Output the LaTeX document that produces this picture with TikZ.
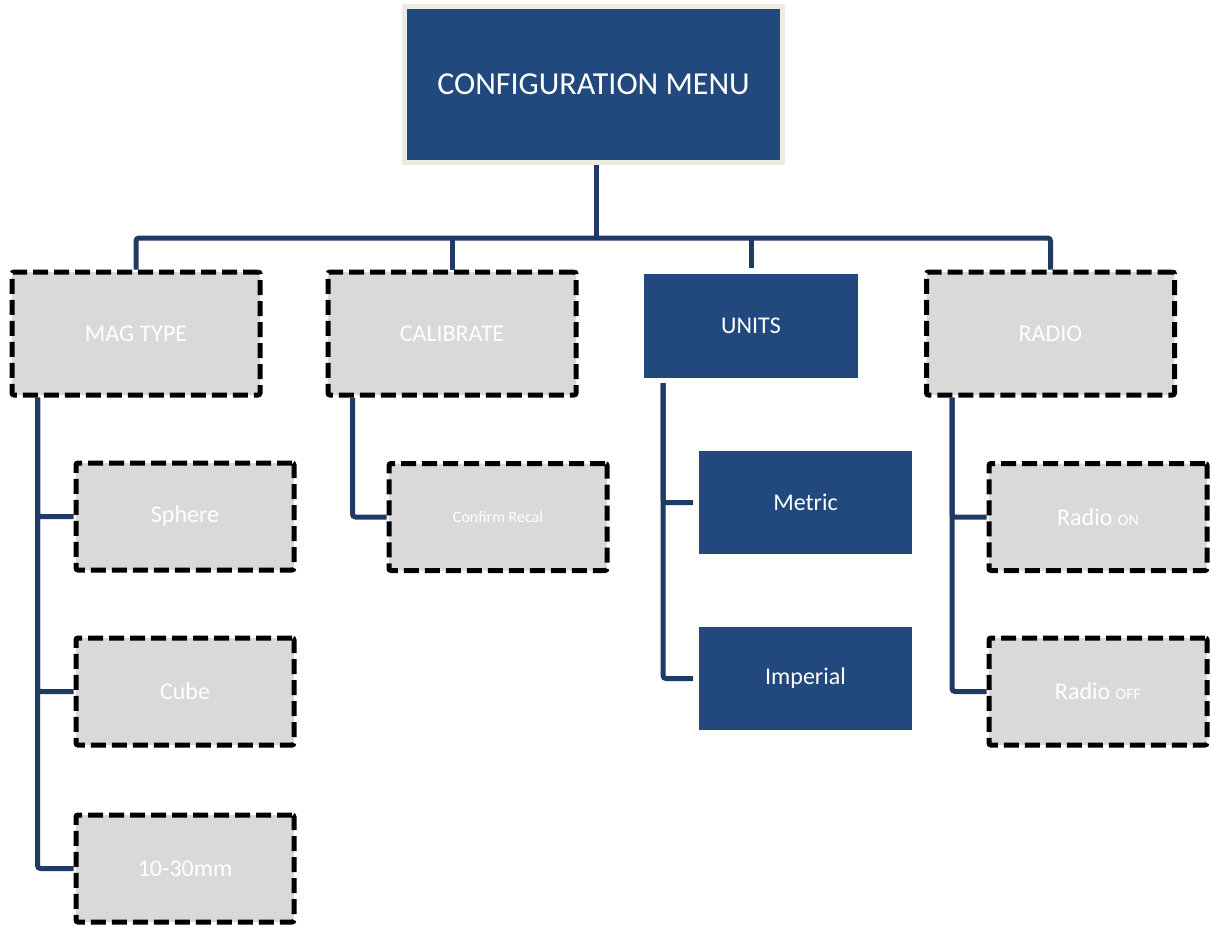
\documentclass[tikz,border=0pt]{standalone}
\usepackage{fontspec}
\setmainfont{Carlito}
\definecolor{menublue}{RGB}{33,73,125}
\definecolor{linkblue}{RGB}{31,58,100}
\definecolor{boxgray}{RGB}{217,217,217}
\definecolor{framebeige}{RGB}{238,236,225}

\begin{document}
\begin{tikzpicture}[x=1pt,y=-1pt,
    link/.style={draw=linkblue,line width=5pt,rounded corners=3pt},
    dash box/.style={rectangle,draw=black,fill=boxgray,line width=5pt,dash pattern=on 15pt off 6pt,
      rounded corners=2pt,inner sep=0pt,text=white,font=\fontsize{24}{28}\selectfont},
    top box/.style={dash box,minimum width=248pt,minimum height=123pt},
    sub box/.style={dash box,minimum width=218pt,minimum height=107pt},
    blue box/.style={rectangle,fill=menublue,inner sep=0pt,outer sep=0pt,text=white,font=\fontsize{24}{28}\selectfont}]
  \useasboundingbox (0,0) rectangle (1211,926);

  \node[blue box,draw=framebeige,line width=5pt,outer sep=2.5pt,minimum width=378pt,minimum height=156pt,
        font=\fontsize{32}{38}\selectfont] (menu) at (593.5,84.5) {CONFIGURATION MENU};

  % first level
  \node[top box] (mag) at (136,333.5) {MAG TYPE};
  \node[top box] (cal) at (452,333.5) {CALIBRATE};
  \node[blue box,minimum width=214pt,minimum height=104pt] (units) at (751,326) {UNITS};
  \node[top box] (radio) at (1050.5,333.5) {RADIO};

  % second level
  \node[sub box] (sph) at (185,516.5) {Sphere};
  \node[sub box] (cube) at (185,691.5) {Cube};
  \node[sub box] (mm) at (185,868.5) {10-30mm};
  \node[sub box,font=\fontsize{16}{19}\selectfont] (rec) at (498,517) {Confirm Recal};
  \node[blue box,minimum width=213pt,minimum height=103pt] (met) at (805.5,502.5) {Metric};
  \node[blue box,minimum width=213pt,minimum height=103pt] (imp) at (805.5,678.5) {Imperial};
  \node[sub box] (on) at (1098,517) {Radio {\fontsize{16}{19}\selectfont ON}};
  \node[sub box] (off) at (1098,691.5) {Radio {\fontsize{16}{19}\selectfont OFF}};

  \coordinate (bus) at (596,238);

  \draw[link] (menu.south -| bus) -- (bus);
  \draw[link] (mag.north) |- (bus) -| (radio.north);
  \draw[link] (cal.north) -- (cal.north |- bus);
  \draw[link] (bus -| units.north) -- ([yshift=6pt]units.north);

  \draw[link] ([xshift=28pt]mag.south west) |- (sph.west);
  \draw[link] ([xshift=28pt]mag.south west) |- (cube.west);
  \draw[link] ([xshift=28pt]mag.south west) |- (mm.west);
  \draw[link] ([xshift=27pt]cal.south west) |- (rec.west);
  \draw[link] ([xshift=19pt,yshift=-5pt]units.south west) |- ([xshift=-6pt]met.west);
  \draw[link] ([xshift=19pt,yshift=-5pt]units.south west) |- ([xshift=-6pt]imp.west);
  \draw[link] ([xshift=28pt]radio.south west) |- (on.west);
  \draw[link] ([xshift=28pt]radio.south west) |- (off.west);
\end{tikzpicture}
\end{document}
